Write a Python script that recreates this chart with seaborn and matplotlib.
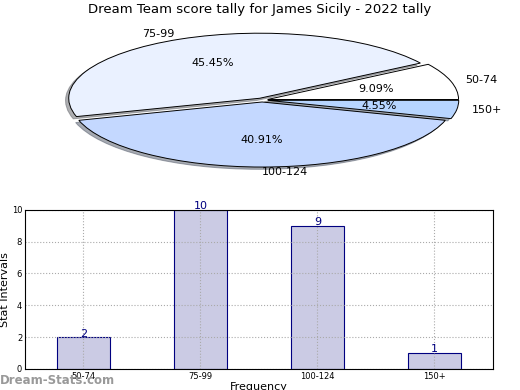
import matplotlib
matplotlib.use("Agg")
import matplotlib.pyplot as plt
import seaborn as sns
import pandas as pd

# data
intervals = ["50-74", "75-99", "100-124", "150+"]
counts = [2, 10, 9, 1]
pie_colors = ["#ffffff", "#eaf1ff", "#c4d8ff", "#b7d5ff"]
title = "Dream Team score tally for James Sicily - 2022 tally"

sns.set_theme(style="white")
plt.rcParams['font.family'] = ['DejaVu Sans']
plt.rcParams['text.color'] = 'black'
plt.rcParams['axes.labelcolor'] = 'black'
plt.rcParams['xtick.color'] = 'black'
plt.rcParams['ytick.color'] = 'black'

fig = plt.figure(figsize=(5.2, 3.9), dpi=100)

# pie on top, squashed into an ellipse
ax_pie = fig.add_axes([0.1, 0.56, 0.808, 0.367])
ax_pie.pie(counts, labels=intervals, colors=pie_colors, startangle=0,
           explode=[0.03] * len(counts),
           shadow={"ox": -0.012, "oy": -0.025, "shade": 0.6},
           autopct="%.2f%%", pctdistance=0.59, labeldistance=1.08,
           wedgeprops={"edgecolor": "black", "linewidth": 0.7},
           textprops={"fontsize": 8})
ax_pie.set_aspect("auto")
ax_pie.set_xlim(-1.1, 1.1)
ax_pie.set_ylim(-1.1, 1.1)
ax_pie.axis("off")
fig.text(0.5, 0.975, title, ha="center", va="center", fontsize=9.5)

# bar chart below
df = pd.DataFrame({"interval": intervals, "count": counts})
ax_bar = fig.add_axes([0.048, 0.054, 0.9, 0.408])
sns.barplot(data=df, x="interval", y="count", ax=ax_bar, color="#cbcbe4",
            saturation=1, edgecolor="navy", linewidth=0.8, width=0.45)
ax_bar.set_xlim(-0.5, 3.5)
ax_bar.set_ylim(0, 10)
ax_bar.set_yticks(range(0, 11, 2))
ax_bar.grid(True, linestyle=":", color="#aaaaaa", linewidth=0.8)
ax_bar.set_axisbelow(False)
for s in ax_bar.spines.values():
    s.set_visible(True)
    s.set_color("black")
    s.set_linewidth(0.8)
    s.set_zorder(5)
ax_bar.tick_params(axis="both", labelsize=6, length=2, direction="in", pad=2)
for c in ax_bar.containers:
    ax_bar.bar_label(c, fontsize=8, color="navy", padding=-1)
ax_bar.set_ylabel("Stat Intervals", fontsize=8, labelpad=1)
ax_bar.set_xlabel("Frequency", fontsize=8, labelpad=1)

fig.text(0.0, 0.025, "Dream-Stats.com", fontsize=8.5, color="#999999",
         fontweight="bold", ha="left", va="center")

fig.savefig("out.png", dpi=100)
